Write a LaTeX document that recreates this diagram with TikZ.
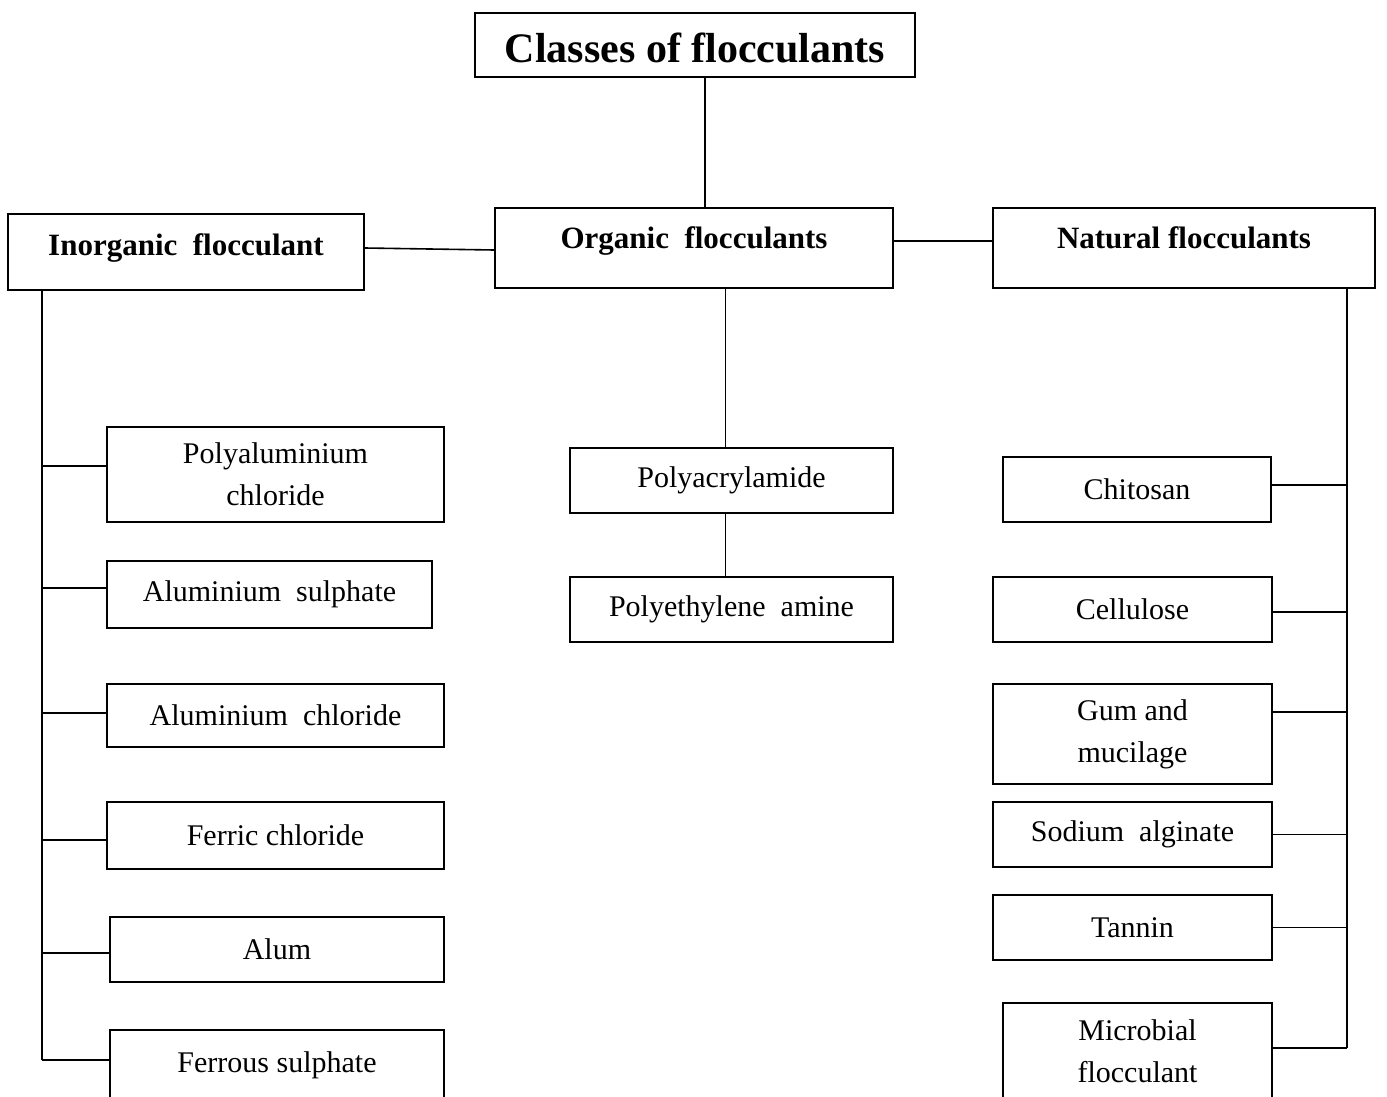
\documentclass[tikz,border=0pt]{standalone}
\usepackage{fontspec}
\setmainfont{Liberation Serif}
\newcommand\lift[2]{\raisebox{#1}[\height][\depth]{#2}}

\begin{document}
\begin{tikzpicture}[x=0.5pt,y=-0.5pt,line width=0.8pt,
  box/.style={draw,inner sep=0pt,align=center,font=\fontsize{15}{21}\selectfont},
  head/.style={box,font=\fontsize{15.5}{19}\selectfont\bfseries}]
\useasboundingbox (0,0) rectangle (1387,1097);
\node[head,font=\fontsize{21}{25}\selectfont\bfseries,minimum width=220pt,minimum height=32pt] (title) at (695,45) {\lift{-1.5pt}{Classes of flocculants}};
\node[head,minimum width=178pt,minimum height=38pt] (inorg) at (186,252) {\lift{2pt}{Inorganic\ \ flocculant}};
\node[head,minimum width=199pt,minimum height=40pt] (org) at (694,248) {\lift{3.5pt}{Organic\ \ flocculants}};
\node[head,minimum width=191pt,minimum height=40pt] (nat) at (1184,248) {\lift{5pt}{Natural flocculants}};
\foreach \n/\xa/\xb/\ya/\yb/\txt [evaluate=\xa as \bw using (\xb-\xa)/2, evaluate=\ya as \bh using (\yb-\ya)/2] in {%
    pal/107/444/427/522/Polyaluminium\\chloride, asul/107/432/561/628/Aluminium\ \ sulphate,
    achl/107/444/684/747/Aluminium\ \ chloride, fchl/107/444/802/869/Ferric chloride,
    alum/110/444/917/982/Alum, fsul/110/444/1030/1100/Ferrous sulphate,
    pacr/570/893/448/513/Polyacrylamide, peth/570/893/577/642/Polyethylene\ \ amine,
    chit/1003/1271/457/522/Chitosan, cell/993/1272/577/642/Cellulose,
    gum/993/1272/684/784/Gum and\\mucilage, salg/993/1272/802/867/Sodium\ \ alginate,
    tann/993/1272/895/960/Tannin, micr/1003/1272/1003/1100/Microbial\\flocculant} {%
    \node[box,minimum width=\bw pt,minimum height=\bh pt] (\n) at ({(\xa+\xb)/2},{(\ya+\yb)/2}) {\txt};
}
\draw ([xshift=5pt]title.south) -- ([xshift=5pt]title.south |- org.north);
\draw ([yshift=2pt]inorg.east) -- ([yshift=-1pt]org.west);
\draw ([yshift=3.5pt]org.east) -- ([yshift=3.5pt]nat.west);
\draw ([xshift=-3pt]pacr.north) -- ([xshift=-3pt]pacr.north |- org.south);
\draw ([xshift=-3pt]pacr.south) -- ([xshift=-3pt]peth.north);
\coordinate (ltop) at ([xshift=17.5pt]inorg.south west);
\coordinate (rtop) at ([xshift=-14.5pt]nat.south east);
\coordinate (lend) at ([yshift=2.5pt]fsul.west);
\coordinate (rend) at ([yshift=1.75pt]micr.east);
\draw (ltop) -- (ltop |- lend);
\foreach \n/\dy in {pal/4.25,asul/3.25,achl/1.25,fchl/-2.25,alum/-1.75,fsul/2.5}
    \draw ([yshift=\dy pt]\n.west) -- ([yshift=\dy pt]\n.west -| ltop);
\draw (rtop) -- (rtop |- rend);
\foreach \n/\dy in {chit/2.25,cell/-1.25,gum/11,salg/0,tann/0,micr/1.75}
    \draw ([yshift=\dy pt]\n.east) -- ([yshift=\dy pt]\n.east -| rtop);
\end{tikzpicture}
\end{document}
